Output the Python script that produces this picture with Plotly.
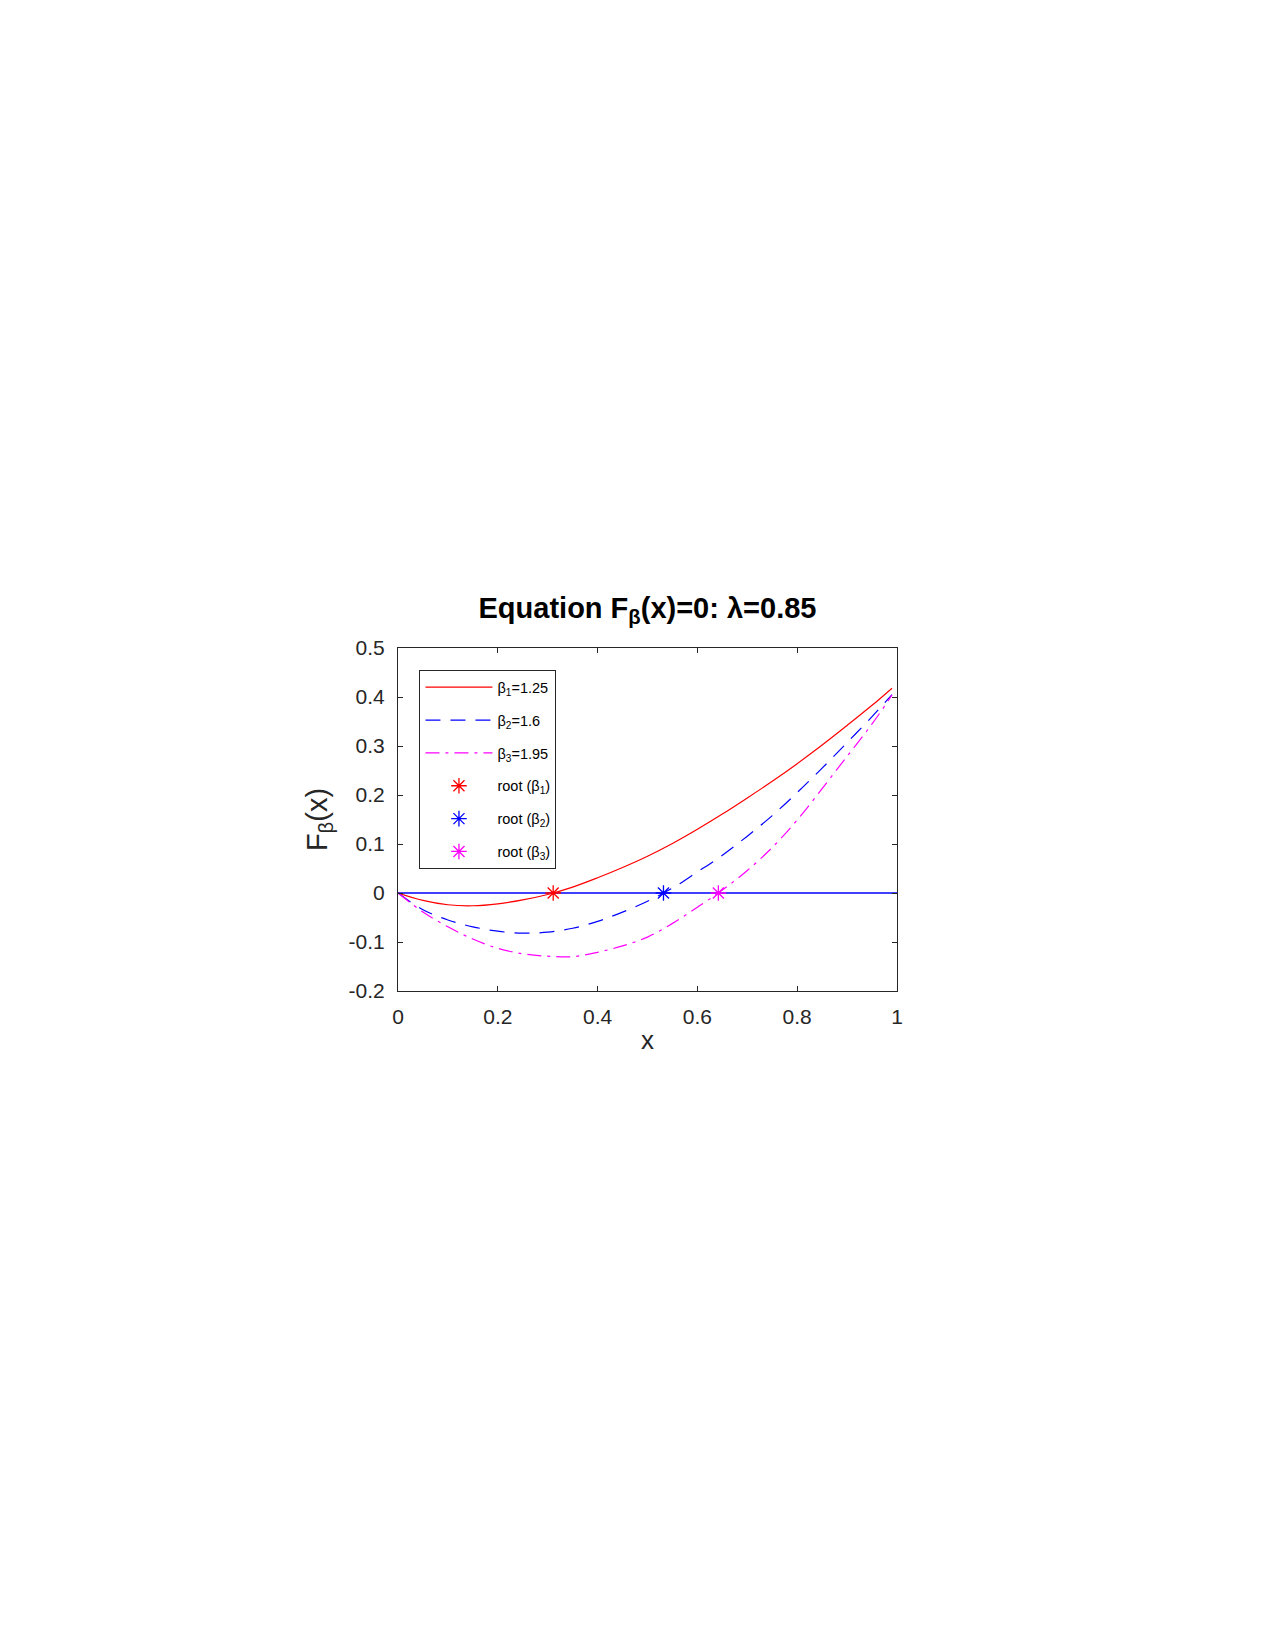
import plotly.graph_objects as go

# ---- data ----
x_vals = [0, 0.05, 0.1, 0.15, 0.2, 0.25, 0.3, 0.35, 0.4, 0.45, 0.5,
          0.55, 0.6, 0.65, 0.7, 0.75, 0.8, 0.85, 0.9, 0.95, 0.99]
f_beta1 = [0, -0.015, -0.024, -0.026, -0.022, -0.014, -0.003, 0.012, 0.031, 0.052, 0.075,
           0.101, 0.130, 0.161, 0.194, 0.228, 0.264, 0.302, 0.342, 0.383, 0.418]
f_beta2 = [0, -0.034, -0.055, -0.069, -0.078, -0.082, -0.080, -0.072, -0.058, -0.039, -0.017,
           0.010, 0.043, 0.077, 0.116, 0.158, 0.205, 0.255, 0.307, 0.360, 0.405]
f_beta3 = [0, -0.039, -0.069, -0.094, -0.113, -0.124, -0.129, -0.130, -0.121, -0.108, -0.090,
           -0.062, -0.029, 0.006, 0.046, 0.093, 0.149, 0.213, 0.279, 0.345, 0.404]
series_names = ["β<sub>1</sub>=1.25", "β<sub>2</sub>=1.6", "β<sub>3</sub>=1.95"]
root_names = ["root (β<sub>1</sub>)", "root (β<sub>2</sub>)", "root (β<sub>3</sub>)"]
roots_x = [0.311, 0.532, 0.642]
roots_y = [0, 0, 0]
zero_x = [0, 1]
zero_y = [0, 0]
x_ticks = [0, 0.2, 0.4, 0.6, 0.8, 1]
x_ticklabels = ["0", "0.2", "0.4", "0.6", "0.8", "1"]
y_ticks = [-0.2, -0.1, 0, 0.1, 0.2, 0.3, 0.4, 0.5]
y_ticklabels = ["-0.2", "-0.1", "0", "0.1", "0.2", "0.3", "0.4", "0.5"]

colors = ["#ff0000", "#0000ff", "#ff00ff"]
dashes = ["solid", "15px,10px", "14px,6px,3px,6px"]

FONT = "Liberation Sans, Arial, Helvetica, sans-serif"
AX = "#262626"

fig = go.Figure()

# zero line
fig.add_trace(go.Scatter(x=zero_x, y=zero_y, mode="lines",
                         line=dict(color="#0000ff", width=1.3),
                         showlegend=False, hoverinfo="skip"))

for i, ys in enumerate([f_beta1, f_beta2, f_beta3]):
    fig.add_trace(go.Scatter(x=x_vals, y=ys, mode="lines", name=series_names[i],
                             line=dict(color=colors[i], width=1.2, dash=dashes[i], shape="spline"),
                             legendgroup="g%d" % i))

for i in range(3):
    fig.add_trace(go.Scatter(x=[roots_x[i]], y=[roots_y[i]], mode="markers", name=root_names[i],
                             marker=dict(symbol="asterisk-open", size=13,
                                         line=dict(color=colors[i], width=1.3), color=colors[i]),
                             legendgroup="r%d" % i))

fig.update_layout(
    width=1268, height=1641,
    paper_bgcolor="white", plot_bgcolor="white",
    margin=dict(l=390, r=379, t=640, b=658, autoexpand=False),
    font=dict(family=FONT, color=AX, size=21),
    title=dict(text="<b>Equation F<sub>β</sub>(x)=0: λ=0.85</b>",
               x=0.5, xref="paper", xanchor="center",
               y=1 - 600 / 1641, yref="container", yanchor="middle",
               font=dict(family=FONT, size=29, color="#000000")),
    showlegend=True,
    legend=dict(x=0.043, y=0.935, xanchor="left", yanchor="top",
                bgcolor="white", bordercolor=AX, borderwidth=1,
                font=dict(family=FONT, size=14.5, color="#000000"),
                tracegroupgap=11, itemwidth=67),
)

fig.update_xaxes(range=[0, 1], tickvals=x_ticks, ticktext=x_ticklabels,
                 ticks="inside", ticklen=5, tickcolor=AX, tickwidth=1,
                 showline=True, linecolor=AX, linewidth=1, mirror="ticks",
                 showgrid=False, zeroline=False, ticklabelstandoff=7,
                 title=dict(text="x", font=dict(family=FONT, size=26, color=AX), standoff=3),
                 tickfont=dict(family=FONT, size=21, color=AX))
fig.update_yaxes(range=[-0.2, 0.5], tickvals=y_ticks, ticktext=y_ticklabels,
                 ticks="inside", ticklen=5, tickcolor=AX, tickwidth=1,
                 showline=True, linecolor=AX, linewidth=1, mirror="ticks",
                 showgrid=False, zeroline=False, ticklabelstandoff=8,
                 title=dict(text="F<sub>β</sub>(x)", font=dict(family=FONT, size=29, color=AX), standoff=12),
                 tickfont=dict(family=FONT, size=21, color=AX))

fig.write_html("out.html")
